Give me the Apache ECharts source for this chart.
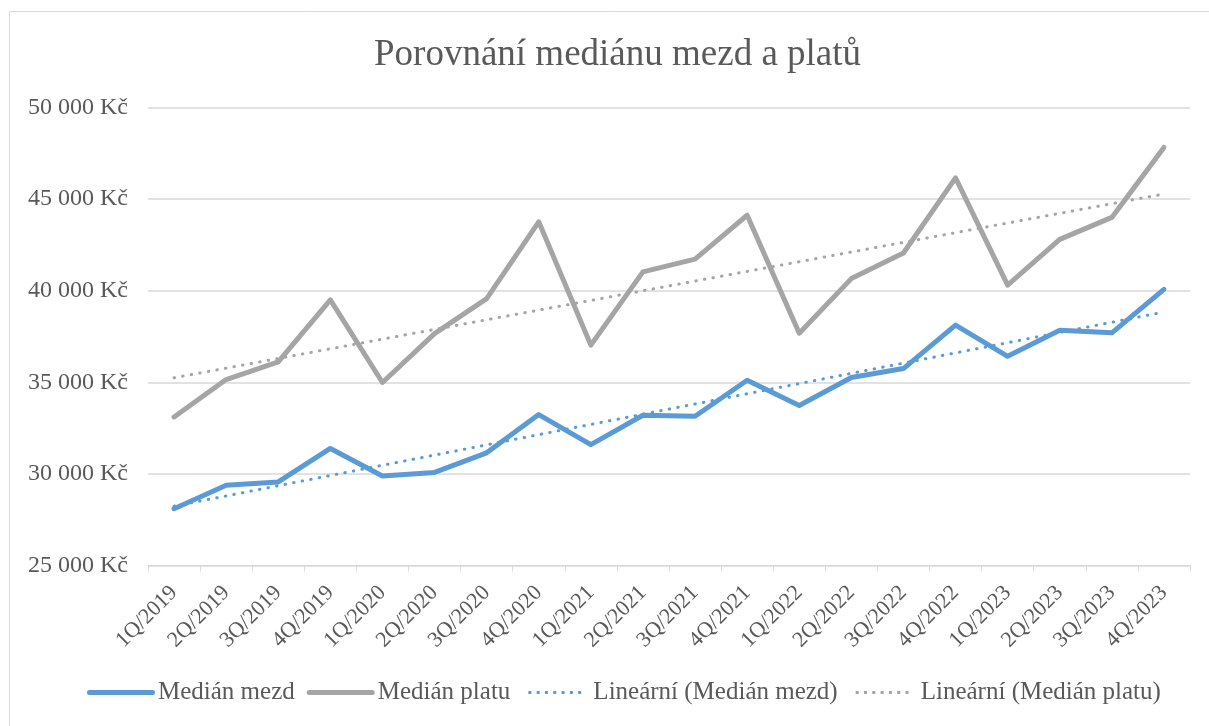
<!DOCTYPE html>
<html>
<head>
<meta charset="utf-8">
<title>Porovnání mediánu mezd a platů</title>
<script src="https://cdn.jsdelivr.net/npm/echarts@6/dist/echarts.min.js"></script>
<style>
  html, body { margin: 0; padding: 0; background: #fff; }
  #chart { width: 1209px; height: 726px; }
</style>
</head>
<body>
<div id="chart"></div>
<script>
// kvartály
var quarters = ['1Q/2019', '2Q/2019', '3Q/2019', '4Q/2019',
                '1Q/2020', '2Q/2020', '3Q/2020', '4Q/2020',
                '1Q/2021', '2Q/2021', '3Q/2021', '4Q/2021',
                '1Q/2022', '2Q/2022', '3Q/2022', '4Q/2022',
                '1Q/2023', '2Q/2023', '3Q/2023', '4Q/2023'];

// medián mezd
var medianMezd = [28100, 29380, 29560, 31390, 29890, 30080, 31150, 33240, 31600, 33200,
                  33150, 35110, 33730, 35260, 35750, 38120, 36420, 37840, 37700, 40070];

// medián platu
var medianPlatu = [33110, 35150, 36110, 39500, 34990, 37660, 39570, 43760, 37030, 41030,
                   41720, 44120, 37680, 40660, 42060, 46160, 40300, 42800, 44000, 47820];

var yMin = 25000, yMax = 50000, yStep = 5000;

// lineární trend (nejmenší čtverce), jako spojnice trendu v Excelu
function linearTrend(values) {
    var n = values.length, sx = 0, sy = 0, sxy = 0, sxx = 0;
    for (var i = 0; i < n; i++) {
        sx += i; sy += values[i]; sxy += i * values[i]; sxx += i * i;
    }
    var b = (n * sxy - sx * sy) / (n * sxx - sx * sx);
    var a = (sy - b * sx) / n;
    return values.map(function (v, i) { return Math.round(a + b * i); });
}

function formatKc(v) {
    return String(v).replace(/\B(?=(\d{3})+(?!\d))/g, ' ') + ' Kč';
}

// ikony legendy: plná čára a tečkovaná čára (box 68 x 6)
var solidIcon = 'path://M0,0M68,6M2.5,0.5L65.5,0.5A2.5,2.5,0,0,1,65.5,5.5L2.5,5.5A2.5,2.5,0,0,1,2.5,0.5Z';
var dotIcon = (function () {
    var p = 'path://M0,0M68,6';
    for (var k = 0; k < 7; k++) {
        var x = 6 + k * 8.3;
        p += 'M' + x.toFixed(1) + ',1.5L' + (x + 3).toFixed(1) + ',1.5L' + (x + 3).toFixed(1) + ',4.5L' + x.toFixed(1) + ',4.5Z';
    }
    return p;
})();

var serif = '"Liberation Serif", "DejaVu Serif", serif';
var textColor = '#595959';
var blue = '#5B9BD5';
var grey = '#A5A5A5';

var chart = echarts.init(document.getElementById('chart'), null, { renderer: 'canvas' });

chart.setOption({
    animation: false,
    backgroundColor: '#fff',
    graphic: [{
        type: 'rect',
        shape: { x: 9.5, y: 11.5, width: 1300, height: 800 },
        style: { fill: 'none', stroke: '#d9d9d9', lineWidth: 1 },
        silent: true
    }],
    title: {
        text: 'Porovnání mediánu mezd a platů',
        left: 369,
        top: 32,
        textStyle: { fontFamily: serif, fontSize: 37, fontWeight: 'normal', color: textColor }
    },
    legend: {
        bottom: 16,
        left: 82,
        itemWidth: 68,
        itemHeight: 6,
        itemGap: 12,
        textStyle: { fontFamily: serif, fontSize: 25, color: textColor, padding: [0, 0, 0, -2] },
        data: [
            { name: 'Medián mezd', icon: solidIcon },
            { name: 'Medián platu', icon: solidIcon },
            { name: 'Lineární (Medián mezd)', icon: dotIcon },
            { name: 'Lineární (Medián platu)', icon: dotIcon }
        ]
    },
    grid: { left: 148, right: 19, top: 107.5, bottom: 160.5 },
    xAxis: {
        type: 'category',
        data: quarters,
        boundaryGap: true,
        axisLine: { lineStyle: { color: '#d9d9d9', width: 1 } },
        axisTick: { show: true, length: 6, lineStyle: { color: '#d9d9d9' } },
        axisLabel: {
            interval: 0,
            rotate: 45,
            margin: 24,
            fontFamily: serif,
            fontSize: 22,
            color: textColor
        },
        splitLine: { show: false }
    },
    yAxis: {
        type: 'value',
        min: yMin,
        max: yMax,
        interval: yStep,
        axisLine: { show: false },
        axisTick: { show: false },
        axisLabel: {
            margin: 20,
            fontFamily: serif,
            fontSize: 24,
            color: textColor,
            formatter: formatKc
        },
        splitLine: { lineStyle: { color: '#d9d9d9', width: 1.5 } }
    },
    series: [
        {
            name: 'Medián mezd',
            type: 'line',
            data: medianMezd,
            symbol: 'none',
            color: blue,
            lineStyle: { color: blue, width: 5, cap: 'round', join: 'round' },
            z: 4
        },
        {
            name: 'Medián platu',
            type: 'line',
            data: medianPlatu,
            symbol: 'none',
            color: grey,
            lineStyle: { color: grey, width: 5, cap: 'round', join: 'round' },
            z: 3
        },
        {
            name: 'Lineární (Medián mezd)',
            type: 'line',
            data: linearTrend(medianMezd),
            symbol: 'none',
            color: blue,
            lineStyle: { color: blue, width: 3, type: [0.5, 8.2], cap: 'round' },
            z: 5
        },
        {
            name: 'Lineární (Medián platu)',
            type: 'line',
            data: linearTrend(medianPlatu),
            symbol: 'none',
            color: grey,
            lineStyle: { color: grey, width: 3, type: [0.5, 8.2], cap: 'round' },
            z: 5
        }
    ]
});
</script>
</body>
</html>
